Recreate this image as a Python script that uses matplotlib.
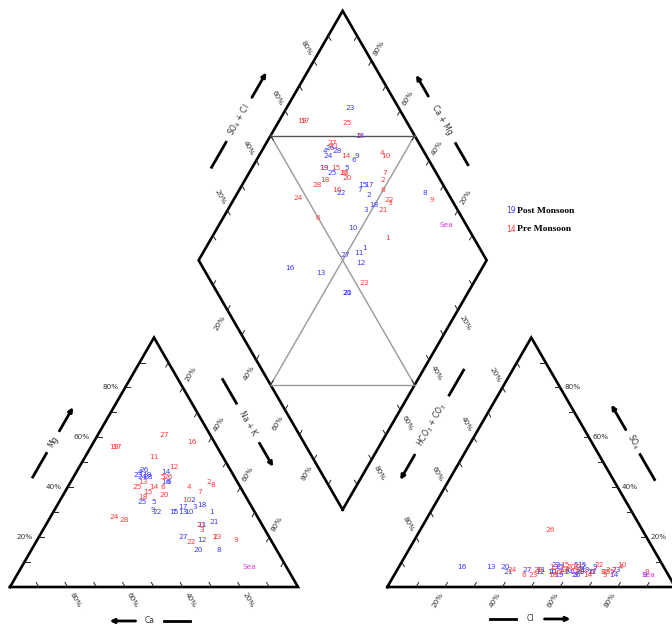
import numpy as np
import matplotlib
matplotlib.use("Agg")
import matplotlib.pyplot as plt

# -----------------------------
# Sample data (meq %)
# -----------------------------
pre_ids = list(range(1, 29))
pre_mg = [20, 42, 23, 40, 44, 40, 38, 41, 19, 35, 52, 48, 42, 40,
          38, 58, 56, 36, 56, 37, 25, 18, 20, 28, 40, 44, 61, 27]
pre_nak = [61, 48, 55, 42, 31, 33, 47, 50, 69, 44, 24, 33, 25, 30,
           29, 34, 9, 28, 8, 35, 54, 54, 62, 22, 24, 33, 23, 26]
pre_so4 = [6, 7, 5, 8, 6, 5, 7, 6, 6, 9, 7, 6, 8, 5,
           9, 6, 7, 5, 6, 8, 6, 9, 5, 7, 6, 23, 8, 7]
pre_so4cl = [70, 80, 78, 85, 81, 50, 82, 78, 93, 86, 70, 68, 62, 72,
             66, 62, 65, 60, 64, 68, 74, 78, 53, 47, 79, 68, 70, 56]

post_ids = list(range(1, 29))
post_mg = [30, 35, 32, 46, 34, 42, 30, 15, 31, 30, 25, 19, 30, 46,
           30, 42, 32, 33, 45, 15, 26, 30, 45, 44, 34, 47, 20, 44]
post_nak = [55, 46, 48, 22, 33, 34, 42, 65, 34, 47, 54, 57, 45, 31,
            42, 33, 44, 50, 25, 58, 58, 36, 22, 24, 29, 23, 50, 26]
post_so4 = [6, 8, 5, 7, 9, 6, 7, 5, 8, 6, 7, 6, 8, 5,
            9, 8, 6, 7, 5, 8, 6, 9, 7, 6, 8, 5, 7, 6]
post_so4cl = [60, 72, 68, 66, 70, 74, 70, 92, 76, 60, 57, 56, 40, 81,
              72, 30, 74, 72, 62, 45, 45, 63, 83, 66, 64, 68, 52, 70]

sea_label = "Sea"
sea_mg, sea_nak, sea_so4, sea_so4cl = 8, 79, 5, 93

ticks_pct = [20, 40, 60, 80]

# -----------------------------
# Geometry
# -----------------------------
H = np.sqrt(3) / 2
gap = 0.31
blue = "#3c3cff"
red = "#ff3c3c"
mag = "#e040e0"


def cat_xy(mg, nak):
    mg, nak = np.asarray(mg) / 100, np.asarray(nak) / 100
    return nak + mg / 2, mg * H


def an_xy(so4, cl):
    so4, cl = np.asarray(so4) / 100, np.asarray(cl) / 100
    return 1 + gap + cl + so4 / 2, so4 * H


def dia_xy(nak, s):
    nak, s = np.asarray(nak) / 100, np.asarray(s) / 100
    return 1 + gap / 2 + 0.5 * (s + nak - 1), gap * H + H * (s + 1 - nak)


fig = plt.figure(figsize=(6.72, 6.25), dpi=100)
ax = fig.add_axes([0, 0, 1, 1])
ax.set_xlim(-10 / 288, 662 / 288)
ax.set_ylim((587 - 625) / 288, 587 / 288)
ax.set_aspect("equal")
ax.axis("off")

# outlines
lw = 1.9
ax.plot([0, 1, 0.5, 0], [0, 0, H, 0], color="black", lw=lw, solid_joinstyle="miter")
ax.plot([1 + gap, 2 + gap, 1.5 + gap, 1 + gap], [0, 0, H, 0], color="black", lw=lw,
        solid_joinstyle="miter")
dx, dy = dia_xy([100, 0, 0, 100, 100], [0, 0, 100, 100, 0])
ax.plot(dx, dy, color="black", lw=lw, solid_joinstyle="miter")

# inner diamond lines
lx, ly = dia_xy([0, 50], [50, 100])
ax.plot(lx, ly, color="#555555", lw=1.0)
lx, ly = dia_xy([50, 100], [0, 50])
ax.plot(lx, ly, color="#999999", lw=1.0)
lx, ly = dia_xy([0, 100], [50, 50])
ax.plot(lx, ly, color="#999999", lw=1.0)
lx, ly = dia_xy([50, 50], [100, 0])
ax.plot(lx, ly, color="#999999", lw=1.0)


# -----------------------------
# Ticks and tick labels
# -----------------------------
def edge_ticks(p0, p1, out, rot, ha="center", t=0.052, reverse=False):
    p0, p1, out = np.array(p0), np.array(p1), np.array(out)
    for k in range(1, 10):
        f = k / 10
        p = p0 + f * (p1 - p0)
        q = p - 0.018 * out
        ax.plot([p[0], q[0]], [p[1], q[1]], color="#222222", lw=0.7)
    for v in ticks_pct:
        f = v / 100
        if reverse:
            f = 1 - f
        p = p0 + f * (p1 - p0) + t * out
        ax.text(p[0], p[1], f"{v}%", fontsize=5.2, color="#333333", rotation=rot,
                ha=ha, va="center", rotation_mode="anchor")


d60 = np.array([0.5, H])
dm60 = np.array([0.5, -H])
# left triangle
edge_ticks((0, 0), (0.5, H), (-1, 0), 0, ha="right", t=0.022)              # Mg
edge_ticks((1, 0), (0, 0), dm60, -60)                                        # Ca
edge_ticks((0.5, H), (1, 0), d60, 60)                                        # Na + K
# right triangle
edge_ticks((1 + gap, 0), (2 + gap, 0), -d60, 60)                            # Cl
edge_ticks((2 + gap, 0), (1.5 + gap, H), (1, 0), 0, ha="left", t=0.014)     # SO4
edge_ticks((1.5 + gap, H), (1 + gap, 0), -dm60, -60)                        # HCO3 + CO3
# diamond
L = dia_xy(0, 0)
T = dia_xy(0, 100)
R = dia_xy(100, 100)
B = dia_xy(100, 0)
edge_ticks(L, T, -dm60, -60)     # SO4 + Cl
edge_ticks(R, T, d60, 60)        # Ca + Mg
edge_ticks(L, B, -d60, 60)       # Na + K
edge_ticks(R, B, dm60, -60)      # HCO3 + CO3


# -----------------------------
# Axis titles with arrows
# -----------------------------
def axis_title(center, direction, text, g0, g1):
    c = np.array(center)
    d = np.array(direction, dtype=float)
    d = d / np.hypot(*d)
    ang = np.degrees(np.arctan2(d[1], d[0]))
    if ang > 90:
        ang -= 180
    elif ang <= -90:
        ang += 180
    ax.text(c[0], c[1], text, fontsize=5.5, color="#333333", rotation=ang,
            ha="center", va="center", rotation_mode="anchor")
    a, b = c - d * g1, c - d * g0
    ax.plot([a[0], b[0]], [a[1], b[1]], color="black", lw=2)
    a, b = c + d * g0, c + d * g1
    ax.annotate("", xy=b, xytext=a,
                arrowprops=dict(arrowstyle="-|>", color="black", lw=2,
                                mutation_scale=6, shrinkA=0, shrinkB=0))


axis_title((0.149, 0.503), (0.5, H), "Mg", 0.045, 0.14)
axis_title((0.826, 0.569), (0.5, -H), "Na + K", 0.08, 0.175)
axis_title((0.486, -0.118), (-1, 0), "Ca", 0.05, 0.14)
axis_title((1.806, -0.111), (1, 0), "Cl", 0.05, 0.14)
axis_title((2.163, 0.503), (-0.5, H), r"SO$_4$", 0.05, 0.15)
axis_title((1.465, 0.5625), (-0.5, -H), r"HCO$_3$ + CO$_3$", 0.12, 0.22)
axis_title((0.795, 1.622), (0.5, H), r"SO$_4$ + Cl", 0.09, 0.19)
axis_title((1.5, 1.622), (-0.5, H), "Ca + Mg", 0.095, 0.18)


# -----------------------------
# Sample labels
# -----------------------------
def plot_set(ids, mg, nak, so4, so4cl, color):
    cl = np.asarray(so4cl) - np.asarray(so4)
    pts = [cat_xy(mg, nak), an_xy(so4, cl), dia_xy(nak, so4cl)]
    for xs, ys in pts:
        for i, x, y in zip(ids, np.atleast_1d(xs), np.atleast_1d(ys)):
            ax.text(x, y, str(i), fontsize=5.3, color=color, ha="center", va="center")


plot_set(post_ids, post_mg, post_nak, post_so4, post_so4cl, blue)
plot_set(pre_ids, pre_mg, pre_nak, pre_so4, pre_so4cl, red)
plot_set([sea_label], [sea_mg], [sea_nak], [sea_so4], [sea_so4cl], mag)

# -----------------------------
# Legend
# -----------------------------
ax.text(1.740, 1.306, "19", fontsize=5.5, color=blue, ha="center", va="center")
ax.text(1.762, 1.306, "Post Monsoon", fontsize=6.8, fontweight="bold",
        family="Liberation Serif", ha="left", va="center")
ax.text(1.740, 1.243, "14", fontsize=5.5, color=red, ha="center", va="center")
ax.text(1.762, 1.243, "Pre Monsoon", fontsize=6.8, fontweight="bold",
        family="Liberation Serif", ha="left", va="center")

fig.savefig("out.png", dpi=100)
